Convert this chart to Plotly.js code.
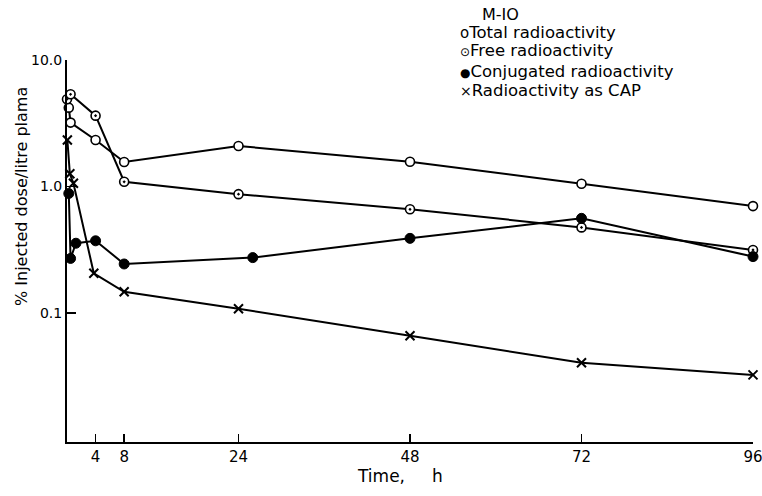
<!DOCTYPE html>
<html>
<head>
<meta charset="utf-8">
<script src="https://cdn.plot.ly/plotly-3.0.1.min.js"></script>
<style>html,body{margin:0;padding:0;background:#fff;}#chart{width:762px;height:496px;}</style>
</head>
<body>
<div id="chart"></div>
<script>
// Data (time in hours, % injected dose / litre plasma)
const totalTime = [0.25, 0.5, 4, 8, 24, 48, 72, 96];
const totalValue = [4.2, 3.2, 2.33, 1.56, 2.09, 1.57, 1.05, 0.70];

const freeTime = [0, 0.5, 4, 8, 24, 48, 72, 96];
const freeValue = [4.9, 5.36, 3.63, 1.09, 0.87, 0.66, 0.475, 0.315];

const conjTime = [0.25, 0.5, 1.25, 4, 8, 26, 48, 72, 96];
const conjValue = [0.88, 0.27, 0.356, 0.372, 0.244, 0.274, 0.389, 0.56, 0.279];

const capTime = [0.05, 0.4, 0.9, 3.75, 8, 24, 48, 72, 96];
const capValue = [2.33, 1.26, 1.06, 0.206, 0.147, 0.108, 0.066, 0.0404, 0.0324];

const xTicks = [4, 8, 24, 48, 72, 96];
const xTickLabels = ["4", "8", "24", "48", "72", "96"];
const yTicks = [0.1, 1, 10];
const yTickLabels = ["0.1", "1.0", "10.0"];

const legendTitle = "M-IO";
const legendSymbols = ["o", "\u2299", "\u25CF", "\u00D7"];
const legendLabels = ["Total radioactivity", "Free radioactivity", "Conjugated radioactivity", "Radioactivity as CAP"];

const FONT = "DejaVu Sans, sans-serif";
const lineStyle = {color: "#000", width: 2};

const traces = [
  {x: totalTime, y: totalValue, mode: "lines+markers", line: lineStyle,
   marker: {symbol: "circle", size: 9, color: "#fff", line: {color: "#000", width: 1.6}}, cliponaxis: false},
  {x: freeTime, y: freeValue, mode: "lines+markers", line: lineStyle,
   marker: {symbol: "circle-dot", size: 9, color: "#fff", line: {color: "#000", width: 1.6}}, cliponaxis: false},
  {x: conjTime, y: conjValue, mode: "lines+markers", line: lineStyle,
   marker: {symbol: "circle", size: 10, color: "#000", line: {color: "#000", width: 1}}, cliponaxis: false},
  {x: capTime, y: capValue, mode: "lines+markers", line: lineStyle,
   marker: {symbol: "x-thin", size: 9, color: "#000", line: {color: "#000", width: 2}}, cliponaxis: false}
];

const legendY = [1.073, 1.024, 0.971, 0.921];
const symSizes = [15, 12, 12, 14];
const annotations = [
  {text: legendTitle, xref: "paper", yref: "paper", x: 0.632, y: 1.12, xanchor: "center", yanchor: "middle",
   showarrow: false, font: {family: FONT, size: 16, color: "#000"}}
];
legendLabels.forEach((t, i) => annotations.push({
  text: '<span style="font-size:' + symSizes[i] + 'px">' + legendSymbols[i] + '</span>' + t,
  xref: "paper", yref: "paper", x: 0.57, y: legendY[i], xanchor: "left", yanchor: "middle",
  showarrow: false, font: {family: FONT, size: 16.5, color: "#000"}
}));
annotations.push({text: "% Injected dose/litre plama", xref: "paper", yref: "paper", x: -0.0656, y: 0.644,
  textangle: -90, xanchor: "center", yanchor: "middle", showarrow: false,
  font: {family: FONT, size: 16, color: "#000"}});
annotations.push({text: "Time,\u00A0\u00A0\u00A0\u00A0\u00A0h", xref: "paper", yref: "paper", x: 0.485, y: -0.09,
  xanchor: "center", yanchor: "middle", showarrow: false,
  font: {family: FONT, size: 17, color: "#000"}});

const layout = {
  width: 762, height: 496,
  margin: {l: 67, r: 9, t: 60, b: 54},
  paper_bgcolor: "#fff", plot_bgcolor: "#fff",
  showlegend: false,
  font: {family: FONT, color: "#000"},
  xaxis: {
    range: [0, 96], tickvals: xTicks, ticktext: xTickLabels, ticks: "inside", ticklen: 8, tickwidth: 1.5, tickcolor: "#000",
    showline: true, linecolor: "#000", linewidth: 2, showgrid: false, zeroline: false, ticklabeloverflow: "allow",
    tickfont: {family: FONT, size: 15, color: "#000"}
  },
  yaxis: {
    type: "log", range: [-2.02, 1.0], tickvals: yTicks, ticktext: yTickLabels,
    ticks: "inside", ticklen: 9, tickwidth: 1.5, tickcolor: "#000",
    showline: true, linecolor: "#000", linewidth: 2, showgrid: false, zeroline: false,
    tickfont: {family: FONT, size: 14, color: "#000"}
  },
  annotations: annotations
};

Plotly.newPlot("chart", traces, layout, {displayModeBar: false, staticPlot: true});
</script>
</body>
</html>
